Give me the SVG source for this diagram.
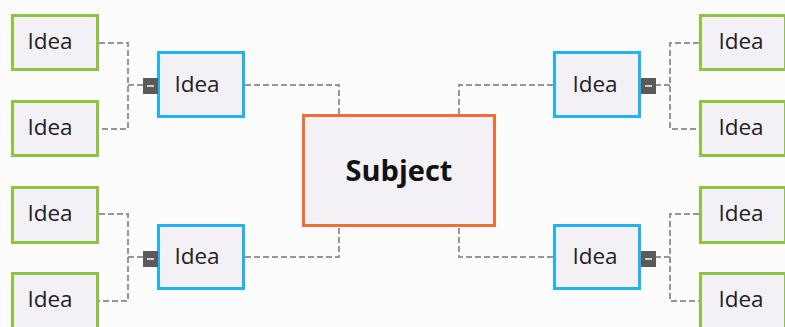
<svg xmlns="http://www.w3.org/2000/svg" width="785" height="327" viewBox="0 0 785 327">
  <style>
    .box { fill: #f3f1f5; stroke-width: 3; }
    .leaf { stroke: #8cc63f; }
    .topic { stroke: #1fb4f0; }
    .root { stroke: #f26d35; }
    .lbl { font-family: "Open Sans", "Noto Sans", sans-serif; font-size: 22.5px; fill: #222; text-anchor: middle; }
    .rootlbl { font-family: "Open Sans", "Noto Sans", sans-serif; font-size: 29px; font-weight: bold; fill: #111; text-anchor: middle; }
    .link { fill: none; stroke: #969696; stroke-width: 2; stroke-dasharray: 6 3; }
    .toggle { fill: #5a5a5a; }
    .minus { fill: #cfcfcf; }
  </style>
  <rect width="785" height="327" fill="#fbfcfb"/>

  <g id="connectors">
    <!-- left upper branch -->
    <path class="link" d="M99 43 H128 V129 H99 M128 85 H143"/>
    <path class="link" d="M245 85 H339 V114"/>
    <!-- left lower branch -->
    <path class="link" d="M99 214 H128 V301 H99 M128 257 H143"/>
    <path class="link" d="M245 257 H339 V227"/>
    <!-- right upper branch -->
    <path class="link" d="M699 43 H670 V129 H699 M670 85 H655"/>
    <path class="link" d="M553 85 H459 V114"/>
    <!-- right lower branch -->
    <path class="link" d="M699 214 H670 V301 H699 M670 257 H655"/>
    <path class="link" d="M553 257 H459 V227"/>
  </g>

  <g id="subject">
    <rect class="box root" x="303.5" y="115.5" width="191" height="110"/>
    <text class="rootlbl" x="399" y="181">Subject</text>
  </g>

  <g id="idea-left-top">
    <rect class="box topic" x="158.5" y="52.5" width="85" height="64"/>
    <text class="lbl" x="197" y="92">Idea</text>
    <rect class="toggle" x="143" y="78" width="15" height="16"/>
    <rect class="minus" x="147" y="85" width="7" height="2"/>
  </g>
  <g id="idea-left-bottom">
    <rect class="box topic" x="158.5" y="225.5" width="85" height="63"/>
    <text class="lbl" x="197" y="264">Idea</text>
    <rect class="toggle" x="143" y="251" width="15" height="16"/>
    <rect class="minus" x="147" y="258" width="7" height="2"/>
  </g>
  <g id="idea-right-top">
    <rect class="box topic" x="554.5" y="52.5" width="85" height="64"/>
    <text class="lbl" x="595" y="92">Idea</text>
    <rect class="toggle" x="641" y="78" width="15" height="16"/>
    <rect class="minus" x="645" y="85" width="7" height="2"/>
  </g>
  <g id="idea-right-bottom">
    <rect class="box topic" x="554.5" y="225.5" width="85" height="63"/>
    <text class="lbl" x="595" y="264">Idea</text>
    <rect class="toggle" x="641" y="251" width="15" height="16"/>
    <rect class="minus" x="645" y="258" width="7" height="2"/>
  </g>

  <g id="leaf-l1">
    <rect class="box leaf" x="12.5" y="15.5" width="85" height="54"/>
    <text class="lbl" x="50" y="49">Idea</text>
  </g>
  <g id="leaf-l2">
    <rect class="box leaf" x="12.5" y="101.5" width="85" height="54"/>
    <text class="lbl" x="50" y="135">Idea</text>
  </g>
  <g id="leaf-l3">
    <rect class="box leaf" x="12.5" y="187.5" width="85" height="55"/>
    <text class="lbl" x="50" y="221">Idea</text>
  </g>
  <g id="leaf-l4">
    <rect class="box leaf" x="12.5" y="273.5" width="85" height="56"/>
    <text class="lbl" x="50" y="307">Idea</text>
  </g>
  <g id="leaf-r1">
    <rect class="box leaf" x="700.5" y="15.5" width="85" height="54"/>
    <text class="lbl" x="741" y="49">Idea</text>
  </g>
  <g id="leaf-r2">
    <rect class="box leaf" x="700.5" y="101.5" width="85" height="54"/>
    <text class="lbl" x="741" y="135">Idea</text>
  </g>
  <g id="leaf-r3">
    <rect class="box leaf" x="700.5" y="187.5" width="85" height="55"/>
    <text class="lbl" x="741" y="221">Idea</text>
  </g>
  <g id="leaf-r4">
    <rect class="box leaf" x="700.5" y="273.5" width="85" height="56"/>
    <text class="lbl" x="741" y="307">Idea</text>
  </g>
</svg>
